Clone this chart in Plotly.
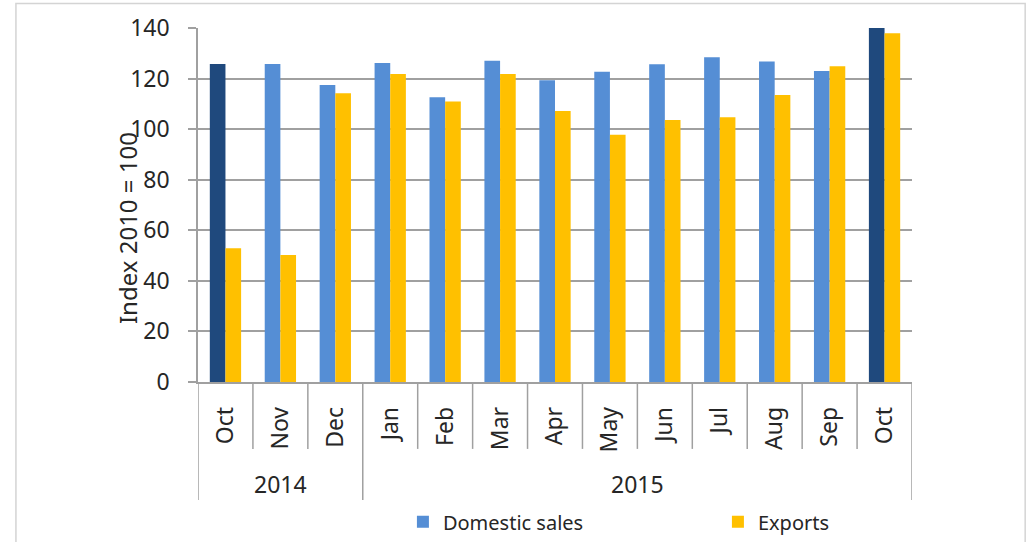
import plotly.graph_objects as go

# ---- data ----
years = ["2014", "2014", "2014", "2015", "2015", "2015", "2015", "2015", "2015", "2015", "2015", "2015", "2015"]
months = ["Oct", "Nov", "Dec", "Jan", "Feb", "Mar", "Apr", "May", "Jun", "Jul", "Aug", "Sep", "Oct"]
domestic = [125.8, 125.8, 117.5, 126.2, 112.6, 127.0, 119.3, 122.7, 125.7, 128.4, 126.8, 123.0, 140.5]
exports = [52.9, 50.2, 114.2, 121.8, 110.9, 121.8, 107.2, 97.8, 103.6, 104.7, 113.5, 124.9, 137.9]
highlight = [True, False, False, False, False, False, False, False, False, False, False, False, True]
y_ticks = [0, 20, 40, 60, 80, 100, 120, 140]

# ---- style ----
C_DOM = "#558ED5"
C_DOM_DARK = "#1F497D"
C_EXP = "#FFC000"
GRID = "#A0A0A0"
TXT = "#262626"
FONT = "Noto Sans"
FS = 23

keys = [f"{m} {y}" for m, y in zip(months, years)]
dom_colors = [C_DOM_DARK if h else C_DOM for h in highlight]

fig = go.Figure()
fig.add_trace(go.Bar(x=keys, y=domestic, marker=dict(color=dom_colors, line=dict(width=0)),
                     offsetgroup="d", showlegend=False, name="Domestic sales", cliponaxis=True))
fig.add_trace(go.Bar(x=[keys[0]], y=[None], marker=dict(color=C_DOM, line=dict(width=0)),
                     offsetgroup="d", showlegend=True, name="Domestic sales"))
fig.add_trace(go.Bar(x=keys, y=exports, marker=dict(color=C_EXP, line=dict(width=0)),
                     offsetgroup="e", name="Exports", cliponaxis=True))

shapes = []
n = len(keys)
# category dividers
for i in range(n + 1):
    long = (i == 0 or i == n or years[i] != years[i - 1])
    shapes.append(dict(type="line", xref="x", yref="paper", x0=i - 0.5, x1=i - 0.5,
                       y0=0, y1=-0.333 if long else -0.189,
                       line=dict(color=GRID, width=1.5)))
# outer chart border
shapes.append(dict(type="rect", xref="paper", yref="paper", x0=-0.255, x1=1.1585, y0=-0.6, y1=1.069,
                   line=dict(color="#D4D4D4", width=1.5), layer="below"))

annotations = []
# year group labels
groups = []
for i, y in enumerate(years):
    if not groups or groups[-1][0] != y:
        groups.append([y, i, i])
    else:
        groups[-1][2] = i
for y, a, b in groups:
    annotations.append(dict(text=y, x=(a + b) / 2, xref="x", y=-0.288, yref="paper",
                            showarrow=False, font=dict(family=FONT, size=FS, color=TXT),
                            xanchor="center", yanchor="middle"))
annotations.append(dict(text="Index 2010 = 100", x=-0.0994, xref="paper", y=0.435, yref="paper",
                        textangle=-90, showarrow=False, font=dict(family=FONT, size=24, color=TXT),
                        xanchor="center", yanchor="middle"))

fig.update_layout(
    width=1026, height=542,
    margin=dict(l=198, r=114, t=28, b=160, autoexpand=False),
    paper_bgcolor="white", plot_bgcolor="white",
    barmode="group", bargap=0.43, bargroupgap=0,
    font=dict(family=FONT, size=FS, color=TXT),
    shapes=shapes, annotations=annotations,
    legend=dict(orientation="h", x=0.287, xanchor="left", y=-0.395, yanchor="middle",
                font=dict(family=FONT, size=20, color=TXT),
                entrywidth=270, entrywidthmode="pixels", bgcolor="rgba(0,0,0,0)"),
    xaxis=dict(type="category", tickmode="array", tickvals=keys, ticktext=months,
               tickangle=-90, ticks="", showgrid=False, showline=True, linecolor=GRID, linewidth=1.5,
               ticklabelstandoff=14, tickfont=dict(family=FONT, size=FS, color=TXT),
               range=[-0.5, n - 0.5], fixedrange=True, automargin=False),
    yaxis=dict(range=[0, 140], tickmode="array", tickvals=y_ticks, showgrid=True,
               gridcolor=GRID, gridwidth=1.5, showline=True, linecolor=GRID, linewidth=1.5,
               ticks="outside", ticklen=8, tickcolor=GRID, tickwidth=1.5, automargin=False,
               ticklabelstandoff=14, zeroline=False, tickfont=dict(family=FONT, size=FS, color=TXT)),
)

fig.write_html("out.html")
